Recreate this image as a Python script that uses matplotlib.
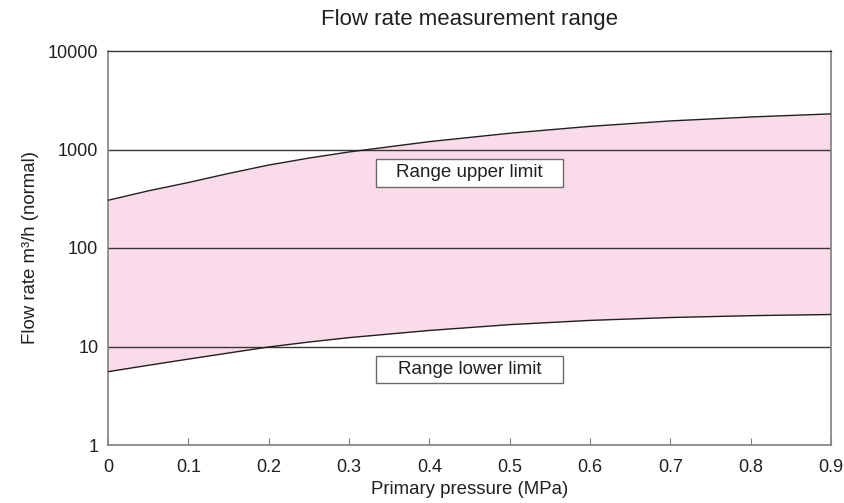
import matplotlib
matplotlib.use("Agg")
import matplotlib.pyplot as plt
from matplotlib.patches import Rectangle

pressure = [0.0, 0.05, 0.1, 0.15, 0.2, 0.25, 0.3, 0.4, 0.5, 0.6, 0.7, 0.8, 0.9]
upper_limit = [305, 380, 462, 571, 695, 818, 944, 1202, 1462, 1718, 1950, 2138, 2300]
lower_limit = [5.55, 6.44, 7.45, 8.59, 9.89, 11.1, 12.3, 14.55, 16.67, 18.41, 19.68, 20.56, 21.13]
x_ticks = [0, 0.1, 0.2, 0.3, 0.4, 0.5, 0.6, 0.7, 0.8, 0.9]
x_tick_labels = ["0", "0.1", "0.2", "0.3", "0.4", "0.5", "0.6", "0.7", "0.8", "0.9"]
y_ticks = [1, 10, 100, 1000, 10000]
y_tick_labels = ["1", "10", "100", "1000", "10000"]

plt.rcParams['font.family'] = ['Liberation Sans', 'DejaVu Sans']

fig = plt.figure(figsize=(8.45, 5.03), dpi=100)
ax = fig.add_axes([108/845, 58/503, 723/845, 394/503])

ax.fill_between(pressure, lower_limit, upper_limit, color='#f9dbe9', linewidth=0, zorder=1)
ax.plot(pressure, upper_limit, color='#231f20', lw=1.0, zorder=3)
ax.plot(pressure, lower_limit, color='#231f20', lw=1.0, zorder=3)

for v in [10, 100, 1000]:
    ax.axhline(v, color='#3a3436', lw=1.0, zorder=2)

ax.set_yscale('log')
ax.set_xlim(0, 0.9)
ax.set_ylim(1, 10000)
ax.set_xticks(x_ticks)
ax.set_xticklabels(x_tick_labels)
ax.set_yticks(y_ticks)
ax.set_yticklabels(y_tick_labels)
ax.yaxis.set_minor_locator(matplotlib.ticker.NullLocator())
ax.tick_params(axis='x', direction='in', length=5, width=0.8, color='#808080', pad=10, labelsize=13, labelcolor='#231f20')
ax.tick_params(axis='y', length=0, pad=7, labelsize=13, labelcolor='#231f20')
for s in ['left', 'bottom', 'right']:
    ax.spines[s].set_color('#808080')
    ax.spines[s].set_linewidth(1.2)
ax.spines['top'].set_color('#3a3436')
ax.spines['top'].set_linewidth(1.0)

# label boxes
for (y0, y1, txt) in [(416, 802, 'Range upper limit'), (4.25, 8.02, 'Range lower limit')]:
    ax.add_patch(Rectangle((0.333, y0), 0.234, y1 - y0, facecolor='white',
                           edgecolor='#6d6869', lw=1.0, zorder=4))
    ax.text(0.45, (y0 * y1) ** 0.5, txt, ha='center', va='center', fontsize=13.5,
            color='#231f20', zorder=5)

ax.set_xlabel('Primary pressure (MPa)', fontsize=13.4, color='#231f20', labelpad=4)
ax.set_ylabel('Flow rate m³/h (normal)', fontsize=13.4, color='#231f20', labelpad=6)
fig.text(470/845, 1 - 20/503, 'Flow rate measurement range', ha='center', va='center',
         fontsize=16, color='#231f20')

fig.savefig('out.png', dpi=100)
